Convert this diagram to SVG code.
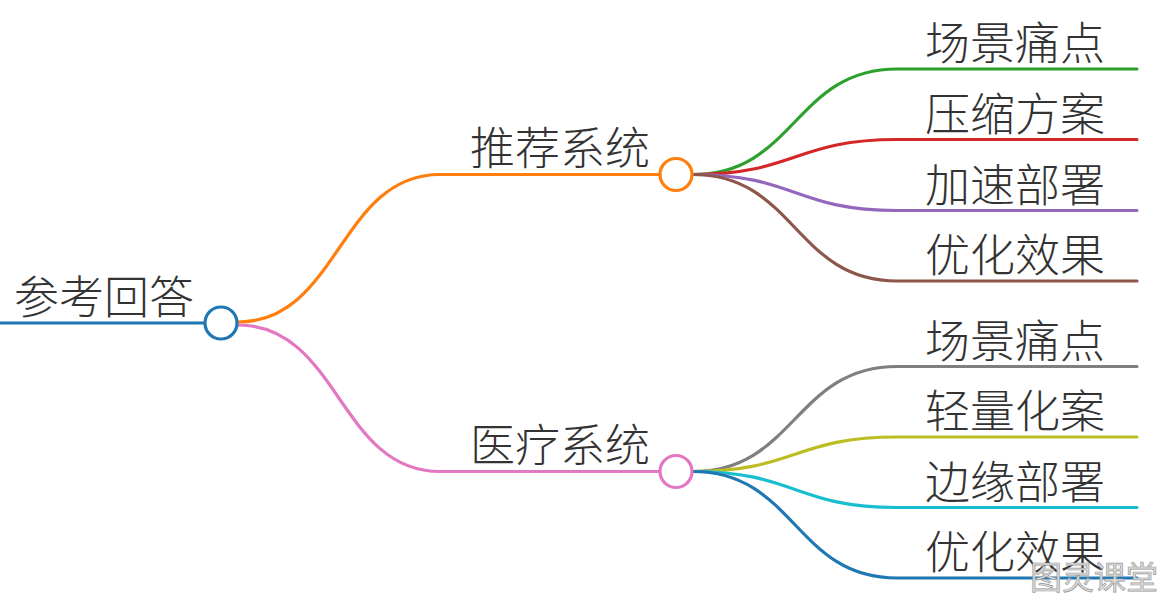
<svg xmlns="http://www.w3.org/2000/svg" width="1166" height="602" viewBox="0 0 1166 602">
<style>
text{font-family:"Noto Sans CJK SC","Noto Sans",sans-serif;font-weight:300;font-size:45px;fill:#333}
.l{fill:none;stroke-width:3.2;stroke-linecap:round}
circle{fill:#fff;stroke-width:3.2}
.wm{font-size:32px;fill:#dcdcdc;stroke:#9a9a9a;stroke-width:0.7;font-weight:400}
</style>
<rect width="1166" height="602" fill="#fff"/>
<g id="connectors">
<path class="l" stroke="#1f77b4" d="M0,323 L205,323"/>
<path class="l" stroke="#ff7f0e" d="M238,322 C339,322 339,174.5 440,174.5 L660,174.5"/>
<path class="l" stroke="#e377c2" d="M238,325 C339,325 339,471.5 440,471.5 L660,471.5"/>
<path class="l" stroke="#2ca02c" d="M693,174.5 C795,174.5 795,69 897,69 L1137,69"/>
<path class="l" stroke="#d62728" d="M693,174.5 C795,174.5 795,139.5 897,139.5 L1137,139.5"/>
<path class="l" stroke="#9467bd" d="M693,174.5 C795,174.5 795,210.5 897,210.5 L1137,210.5"/>
<path class="l" stroke="#8c564b" d="M693,174.5 C795,174.5 795,281 897,281 L1137,281"/>
<path class="l" stroke="#7f7f7f" d="M693,471.5 C795,471.5 795,366.5 897,366.5 L1137,366.5"/>
<path class="l" stroke="#bcbd22" d="M693,471.5 C795,471.5 795,437 897,437 L1137,437"/>
<path class="l" stroke="#17becf" d="M693,471.5 C795,471.5 795,507.5 897,507.5 L1137,507.5"/>
<path class="l" stroke="#1f77b4" d="M693,471.5 C795,471.5 795,578 897,578 L1137,578"/>
</g>
<g id="root"><circle cx="221" cy="323" r="16" stroke="#1f77b4"/><text x="14" y="314">参考回答</text></g>
<g id="n-rec"><circle cx="676" cy="174.5" r="16" stroke="#ff7f0e"/><text x="470" y="165">推荐系统</text></g>
<g id="n-med"><circle cx="676" cy="471.5" r="16" stroke="#e377c2"/><text x="470" y="462">医疗系统</text></g>
<g id="r1"><text x="925" y="60">场景痛点</text></g>
<g id="r2"><text x="925" y="130.5">压缩方案</text></g>
<g id="r3"><text x="925" y="201.5">加速部署</text></g>
<g id="r4"><text x="925" y="272">优化效果</text></g>
<g id="m1"><text x="925" y="357.5">场景痛点</text></g>
<g id="m2"><text x="925" y="428">轻量化案</text></g>
<g id="m3"><text x="925" y="498.5">边缘部署</text></g>
<g id="m4"><text x="925" y="569">优化效果</text></g>
<text class="wm" x="1030" y="589">图灵课堂</text>
</svg>
